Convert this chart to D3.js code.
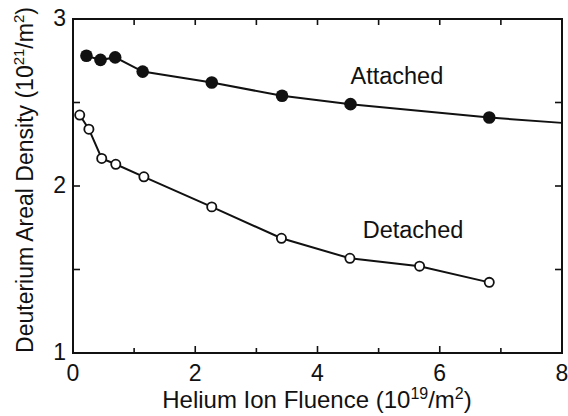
<!DOCTYPE html>
<html>
<head>
<meta charset="utf-8">
<script src="https://cdn.jsdelivr.net/npm/d3@7"></script>
<style>
  body { margin: 0; background: #fff; }
  text { font-family: "Liberation Sans", Arial, Helvetica, sans-serif; fill: #111; }
</style>
</head>
<body>
<div id="chart"></div>
<script>
// Helium fluence (10^19/m^2) and deuterium areal density (10^21/m^2)
var attachedX = [0.22, 0.45, 0.69, 1.14, 2.27, 3.42, 4.54, 6.81];
var attachedY = [2.78, 2.755, 2.77, 2.685, 2.62, 2.54, 2.49, 2.41];
// the attached line runs on to the right edge
var attachedTailX = [8];
var attachedTailY = [2.378];

var detachedX = [0.11, 0.26, 0.47, 0.70, 1.16, 2.27, 3.41, 4.53, 5.67, 6.81];
var detachedY = [2.425, 2.34, 2.165, 2.13, 2.055, 1.875, 1.687, 1.567, 1.52, 1.423];

var xTicks = [0, 2, 4, 6, 8];
var xMinor = [1, 3, 5, 7];
var yTicks = [1, 2, 3];
var yMinor = [1.5, 2.5];

var width = 568, height = 416;
var margin = { top: 19, right: 6, bottom: 63, left: 73 };
var w = width - margin.left - margin.right;
var h = height - margin.top - margin.bottom;

var svg = d3.select("#chart")
  .append("svg")
  .attr("width", width)
  .attr("height", height);

var g = svg.append("g")
  .attr("transform", "translate(" + margin.left + "," + margin.top + ")");

var x = d3.scaleLinear().domain([0, 8]).range([0, w]);
var y = d3.scaleLinear().domain([1, 3]).range([h, 0]);

// frame
g.append("rect")
  .attr("width", w)
  .attr("height", h)
  .attr("fill", "none")
  .attr("stroke", "#111")
  .attr("stroke-width", 2);

// ticks pointing inward on all four sides
function tickLines(vals, len, side) {
  g.selectAll(null)
    .data(vals)
    .enter()
    .append("line")
    .attr("x1", d => side == "bottom" || side == "top" ? x(d) : (side == "left" ? 0 : w))
    .attr("x2", d => side == "bottom" || side == "top" ? x(d) : (side == "left" ? len : w - len))
    .attr("y1", d => side == "left" || side == "right" ? y(d) : (side == "bottom" ? h : 0))
    .attr("y2", d => side == "left" || side == "right" ? y(d) : (side == "bottom" ? h - len : len))
    .attr("stroke", "#111")
    .attr("stroke-width", 1.6);
}
tickLines(xTicks, 7, "bottom");
tickLines(xMinor, 5, "bottom");
tickLines(xTicks.concat(xMinor), 6, "top");
tickLines(yTicks.concat(yMinor), 7, "left");
tickLines(yTicks.concat(yMinor), 7, "right");

// tick labels
g.selectAll(".xlab")
  .data(xTicks)
  .enter()
  .append("text")
  .attr("x", d => x(d))
  .attr("y", h + 28)
  .attr("text-anchor", "middle")
  .style("font-size", "23px")
  .text(d => d);

g.selectAll(".ylab")
  .data(yTicks)
  .enter()
  .append("text")
  .attr("x", -7)
  .attr("y", d => y(d) + 7)
  .attr("text-anchor", "end")
  .style("font-size", "23px")
  .text(d => d);

// series lines
var line = d3.line()
  .x(d => x(d[0]))
  .y(d => y(d[1]));

var attached = d3.zip(attachedX, attachedY);
var detached = d3.zip(detachedX, detachedY);

g.append("path")
  .datum(attached.concat(d3.zip(attachedTailX, attachedTailY)))
  .attr("d", line)
  .attr("fill", "none")
  .attr("stroke", "#111")
  .attr("stroke-width", 2);

g.append("path")
  .datum(detached)
  .attr("d", line)
  .attr("fill", "none")
  .attr("stroke", "#111")
  .attr("stroke-width", 2);

// markers
g.selectAll(".att")
  .data(attached)
  .enter()
  .append("circle")
  .attr("cx", d => x(d[0]))
  .attr("cy", d => y(d[1]))
  .attr("r", 6.3)
  .attr("fill", "#111");

g.selectAll(".det")
  .data(detached)
  .enter()
  .append("circle")
  .attr("cx", d => x(d[0]))
  .attr("cy", d => y(d[1]))
  .attr("r", 4.6)
  .attr("fill", "#fff")
  .attr("stroke", "#111")
  .attr("stroke-width", 1.8);

// series labels
g.append("text")
  .attr("x", x(4.54))
  .attr("y", y(2.61))
  .style("font-size", "23.5px")
  .text("Attached");

g.append("text")
  .attr("x", x(4.74))
  .attr("y", y(1.69))
  .style("font-size", "23.5px")
  .text("Detached");

// axis titles
var xt = svg.append("text")
  .attr("x", 317)
  .attr("y", 408)
  .attr("text-anchor", "middle")
  .style("font-size", "24px");
xt.append("tspan").text("Helium Ion Fluence (10");
xt.append("tspan").attr("dy", -9).style("font-size", "16px").text("19");
xt.append("tspan").attr("dy", 9).text("/m");
xt.append("tspan").attr("dy", -9).style("font-size", "16px").text("2");
xt.append("tspan").attr("dy", 9).text(")");

var yt = svg.append("text")
  .attr("transform", "translate(33," + 180 + ") rotate(-90)")
  .attr("text-anchor", "middle")
  .style("font-size", "23px");
yt.append("tspan").text("Deuterium Areal Density (10");
yt.append("tspan").attr("dy", -9).style("font-size", "15px").text("21");
yt.append("tspan").attr("dy", 9).text("/m");
yt.append("tspan").attr("dy", -9).style("font-size", "15px").text("2");
yt.append("tspan").attr("dy", 9).text(")");
</script>
</body>
</html>
